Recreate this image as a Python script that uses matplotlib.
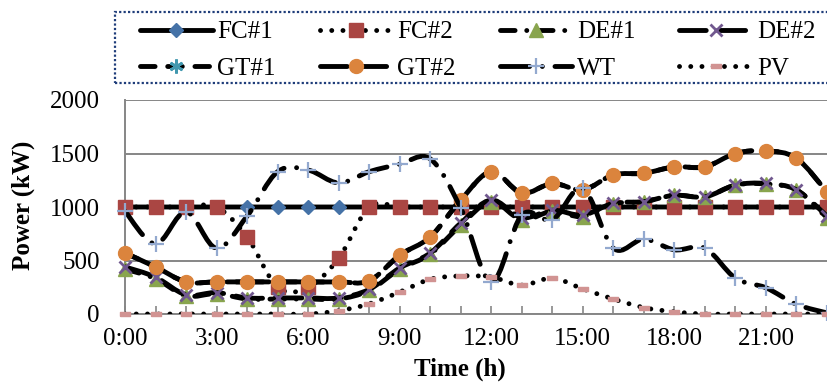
import numpy as np
import matplotlib.pyplot as plt
from matplotlib.path import Path
from matplotlib.patches import PathPatch, Rectangle
from matplotlib.lines import Line2D

plt.rcParams['font.family'] = ['Liberation Serif', 'DejaVu Serif']
plt.rcParams['font.size'] = 18

# hourly output of each unit (kW)
hours = np.arange(24)
fc1 = [1000] * 24
fc2 = [1000, 1000, 1000, 1000, 720, 250, 250, 520, 1000, 1000, 1000, 1000,
       1000, 1000, 1000, 1000, 1000, 1000, 1000, 1000, 1000, 1000, 1000, 1000]
de1 = [420, 330, 170, 190, 140, 140, 140, 140, 220, 420, 560, 830,
       1050, 880, 960, 910, 1030, 1050, 1110, 1095, 1205, 1215, 1160, 900]
de2 = [440, 345, 180, 200, 150, 150, 150, 150, 230, 430, 570, 850,
       1065, 900, 970, 925, 1035, 1050, 1110, 1095, 1205, 1220, 1160, 915]
gt1 = [570, 440, 300, 300, 300, 300, 300, 300, 310, 550, 720, 1065,
       1330, 1130, 1220, 1160, 1300, 1315, 1375, 1375, 1500, 1525, 1455, 1140]
gt2 = [570, 440, 300, 300, 300, 300, 300, 300, 310, 550, 720, 1065,
       1330, 1130, 1220, 1160, 1300, 1315, 1375, 1375, 1500, 1525, 1455, 1140]
wt = [960, 655, 955, 615, 915, 1330, 1345, 1225, 1330, 1400, 1450, 990,
      300, 925, 880, 1175, 615, 700, 600, 615, 335, 245, 90, 10]
pv = [0, 0, 0, 0, 0, 0, 0, 30, 95, 205, 325, 355,
      345, 270, 335, 235, 140, 60, 20, 0, 0, 0, 0, 0]
tick_hours = [0, 3, 6, 9, 12, 15, 18, 21]
tick_labels = ['0:00', '3:00', '6:00', '9:00', '12:00', '15:00', '18:00', '21:00']

dot = (0, (0.01, 2.3))
dash = (0, (3, 2.6))
dash_dot = (0, (3, 2.4, 0.01, 2.4))
long_dash = (0, (5.5, 2.6))
long_dash_dot = (0, (6, 2.6, 0.01, 2.6))

pv_marker = [(-1, -0.5), (1, -0.5), (1, 0.5), (-1, 0.5), (-1, -0.5)]

series = [
    ('FC#1', fc1, '-', dict(marker='D', ms=7, mfc='#4572A7', mec='#4572A7')),
    ('FC#2', fc2, dot, dict(marker='s', ms=9.5, mfc='#AA4643', mec='#AA4643')),
    ('DE#1', de1, dash_dot, dict(marker='^', ms=10, mfc='#89A54E', mec='#89A54E')),
    ('DE#2', de2, long_dash, dict(marker='x', ms=9, mfc='none', mec='#71588F', mew=2)),
    ('GT#1', gt1, dash, dict(marker=(6, 2, 0), ms=10, mfc='none', mec='#4198AF', mew=2)),
    ('GT#2', gt2, long_dash, dict(marker='o', ms=10, mfc='#DB843D', mec='#DB843D')),
    ('WT', wt, long_dash_dot, dict(marker='+', ms=11, mfc='none', mec='#93A9CF', mew=1.6)),
    ('PV', pv, dot, dict(marker=pv_marker, ms=7, mfc='#D19392', mec='#D19392')),
]


def smooth_path(x, y):
    # cubic bezier through the points, like a smoothed spreadsheet line
    pts = np.column_stack([x, y]).astype(float)
    n = len(pts)
    verts = [pts[0]]
    codes = [Path.MOVETO]
    for i in range(n - 1):
        p0 = pts[max(i - 1, 0)]
        p1 = pts[i]
        p2 = pts[i + 1]
        p3 = pts[min(i + 2, n - 1)]
        verts += [p1 + (p2 - p0) / 6, p2 - (p3 - p1) / 6, p2]
        codes += [Path.CURVE4] * 3
    return Path(verts, codes)


fig = plt.figure(figsize=(8.27, 3.83), dpi=100)
ax = fig.add_axes([125 / 827, 69 / 383, 702 / 827, 214 / 383])

lw = 3.5
handles = {}
for i, (name, vals, ls, mk) in enumerate(series):
    patch = PathPatch(smooth_path(hours, vals), fill=False, edgecolor='black',
                      lw=lw, linestyle=ls, capstyle='round', zorder=3 + 2 * i)
    ax.add_patch(patch)
    ax.plot(hours, vals, linestyle='none', zorder=4 + 2 * i, clip_on=False, **mk)
    handles[name] = Line2D([], [], color='black', lw=lw, linestyle=ls,
                           dash_capstyle='round', solid_capstyle='round', **mk)

ax.set_xlim(0, 23)
ax.set_ylim(0, 2000)
ax.set_yticks([0, 500, 1000, 1500, 2000])
ax.set_xticks(hours, minor=True)
ax.set_xticks(tick_hours)
ax.set_xticklabels(tick_labels)
ax.tick_params(axis='x', which='both', direction='in', length=6, width=1.2,
               color='#868686', pad=10)
ax.tick_params(axis='y', length=0, pad=18)
ax.grid(axis='y', color='#868686', lw=1.4)
ax.set_axisbelow(True)
for side in ['top', 'right']:
    ax.spines[side].set_visible(False)
for side in ['left', 'bottom']:
    ax.spines[side].set_color('#868686')
    ax.spines[side].set_linewidth(1.4)

fig.text(23 / 827, 1 - 205 / 383, 'Power (kW)', rotation=90, fontweight='bold',
         ha='center', va='center')
fig.text(460 / 827, 1 - 369 / 383, 'Time (h)', fontweight='bold',
         ha='center', va='center')

# legend laid out row by row (matplotlib fills columns first)
order = ['FC#1', 'GT#1', 'FC#2', 'GT#2', 'DE#1', 'WT', 'DE#2', 'PV']
fig.legend([handles[n] for n in order], order, ncol=4, loc='upper left',
           bbox_to_anchor=(140 / 827, 1 - 21 / 383), frameon=False,
           handlelength=2.9, handletextpad=0.2, columnspacing=1.75,
           borderpad=0, labelspacing=0.55, borderaxespad=0, numpoints=1)
fig.add_artist(Rectangle((115 / 827, 1 - 83 / 383), 720 / 827, 71 / 383,
                         transform=fig.transFigure, fill=False,
                         edgecolor='#1F3D7A', lw=1.6, linestyle=(0, (1, 1))))

fig.savefig('out.png', dpi=100)
